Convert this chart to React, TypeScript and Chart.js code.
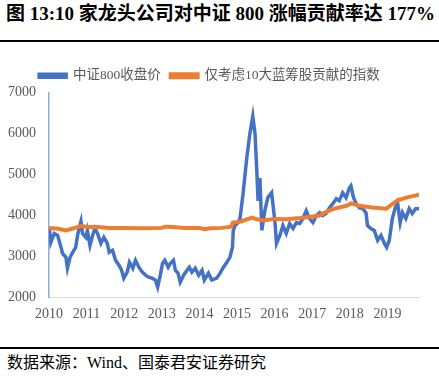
import React, { useEffect, useRef } from "react";
import { Chart, registerables } from "chart.js";

Chart.register(...registerables);

const titleText = "图 13:10 家龙头公司对中证 800 涨幅贡献率达 177%";
const sourceText = "数据来源：Wind、国泰君安证券研究";
const seriesNames = ["中证800收盘价", "仅考虑10大蓝筹股贡献的指数"];

const yearTicks = [2010, 2011, 2012, 2013, 2014, 2015, 2016, 2017, 2018, 2019];

const csiDates = [
  2010.01, 2010.05, 2010.14, 2010.23, 2010.32, 2010.36, 2010.45, 2010.49, 2010.56, 2010.63,
  2010.71, 2010.76, 2010.8, 2010.85, 2010.89, 2010.98, 2011.02, 2011.09, 2011.16, 2011.22,
  2011.29, 2011.38, 2011.46, 2011.55, 2011.6, 2011.69, 2011.77, 2011.86, 2011.93, 2011.99,
  2012.08, 2012.14, 2012.23, 2012.3, 2012.39, 2012.48, 2012.57, 2012.65, 2012.74, 2012.83,
  2012.89, 2012.96, 2013.02, 2013.08, 2013.17, 2013.23, 2013.31, 2013.36, 2013.43, 2013.49,
  2013.58, 2013.67, 2013.73, 2013.8, 2013.89, 2013.98, 2014.07, 2014.13, 2014.24, 2014.33,
  2014.46, 2014.55, 2014.64, 2014.73, 2014.81, 2014.88, 2014.9, 2014.95, 2015.03, 2015.08,
  2015.16, 2015.26, 2015.34, 2015.42, 2015.48, 2015.53, 2015.56, 2015.61, 2015.66, 2015.74,
  2015.82, 2015.92, 2015.96, 2016.01, 2016.05, 2016.14, 2016.22, 2016.31, 2016.4, 2016.49,
  2016.58, 2016.67, 2016.75, 2016.84, 2016.93, 2017.02, 2017.11, 2017.2, 2017.28, 2017.37,
  2017.46, 2017.55, 2017.64, 2017.72, 2017.81, 2017.9, 2017.99, 2018.03, 2018.1, 2018.17,
  2018.25, 2018.34, 2018.43, 2018.47, 2018.56, 2018.65, 2018.74, 2018.83, 2018.92, 2018.98,
  2019.05, 2019.13, 2019.21, 2019.27, 2019.34, 2019.4, 2019.49, 2019.58, 2019.66, 2019.75,
  2019.84,
];
const csiValues = [
  3675, 3335, 3553, 3505, 3214, 3068, 2971, 2704, 2971, 3092,
  3214, 3505, 3675, 3850, 3553, 3456, 3626, 3262, 3505, 3675,
  3553, 3311, 3456, 3311, 3092, 3141, 2898, 2777, 2655, 2461,
  2607, 2849, 2704, 2898, 2728, 2607, 2534, 2485, 2461, 2413,
  2243, 2534, 2825, 2898, 2728, 2825, 2898, 2655, 2583, 2364,
  2534, 2655, 2728, 2607, 2704, 2534, 2655, 2413, 2583, 2413,
  2461, 2583, 2728, 2849, 2971, 3214, 3626, 3747, 3820, 3920,
  4520, 5400, 5980, 6420, 5980, 5010, 4350, 4910, 3630, 4110,
  4430, 4550, 4233, 3820, 3311, 3505, 3747, 3553, 3796, 3675,
  3820, 3796, 3917, 4111, 3917, 3820, 3990, 4063, 3990, 4039,
  4184, 4281, 4403, 4354, 4548, 4427, 4670, 4718, 4427, 4281,
  4184, 4160, 4063, 3747, 3675, 3626, 3383, 3505, 3311, 3214,
  3383, 3917, 4184, 4306, 3820, 4063, 3917, 4160, 4039, 4160,
  4160,
];

const blueChipDates = [
  2010.0, 2010.25, 2010.45, 2010.65, 2010.85, 2011.0, 2011.3, 2011.6, 2012.0, 2012.5,
  2013.0, 2013.1, 2013.3, 2013.6, 2014.0, 2014.13, 2014.3, 2014.6, 2014.85, 2014.89,
  2015.08, 2015.4, 2015.53, 2015.69, 2016.0, 2016.32, 2016.67, 2016.85, 2017.2, 2017.28,
  2017.45, 2017.59, 2017.91, 2018.04, 2018.25, 2018.6, 2018.97, 2019.26, 2019.5, 2019.84,
];
const blueChipValues = [
  3690, 3670, 3630, 3680, 3740, 3710, 3710, 3690, 3690, 3680,
  3690, 3720, 3710, 3690, 3690, 3660, 3680, 3690, 3720, 3820,
  3840, 3940, 3900, 3870, 3910, 3900, 3930, 3950, 3990, 4040,
  4110, 4160, 4230, 4290, 4230, 4190, 4160, 4360, 4430, 4500,
];

const FONT = '"Liberation Serif", "Noto Sans CJK SC", serif';

function ChartView() {
  const ref = useRef<HTMLCanvasElement | null>(null);
  useEffect(() => {
    if (!ref.current) return;
    const chart = new Chart(ref.current, {
      type: "line",
      data: {
        datasets: [
          {
            label: seriesNames[0],
            data: csiDates.map((d, i) => ({ x: d, y: csiValues[i] })),
            borderColor: "#4472C4",
            backgroundColor: "#4472C4",
            borderWidth: 3.5,
            pointRadius: 0,
            tension: 0,
            order: 2,
          },
          {
            label: seriesNames[1],
            data: blueChipDates.map((d, i) => ({ x: d, y: blueChipValues[i] })),
            borderColor: "#ED7D31",
            backgroundColor: "#ED7D31",
            borderWidth: 4,
            pointRadius: 0,
            tension: 0,
            order: 1,
          },
        ],
      },
      options: {
        responsive: false,
        animation: false,
        layout: { padding: { top: 9, right: 20, left: 0, bottom: 0 } },
        plugins: {
          tooltip: { enabled: false },
          legend: {
            display: true,
            position: "top",
            labels: {
              boxWidth: 27,
              boxHeight: 3,
              padding: 10,
              color: "#595959",
              font: { family: FONT, size: 13.5 },
              sort: (a: any, b: any) => a.datasetIndex - b.datasetIndex,
            },
          },
        },
        scales: {
          x: {
            type: "linear",
            min: 2010,
            max: 2019.84,
            afterFit: (s: any) => {
              s.height = 38;
            },
            afterBuildTicks: (s: any) => {
              s.ticks = yearTicks.map((v) => ({ value: v }));
            },
            ticks: {
              color: "#595959",
              font: { family: FONT, size: 14 },
              padding: 9,
              maxRotation: 0,
              autoSkip: false,
              callback: (v: any) => String(v),
            },
            grid: { display: false, drawTicks: false },
            border: { display: true, color: "#D9D9D9", width: 1 },
          },
          y: {
            min: 2000,
            max: 7000,
            afterFit: (s: any) => {
              s.width = 49;
            },
            ticks: {
              stepSize: 1000,
              color: "#595959",
              font: { family: FONT, size: 14 },
              padding: 13,
              callback: (v: any) => String(v),
            },
            grid: { display: false, drawTicks: false },
            border: { display: true, color: "#8FAADC", width: 1.5 },
          },
        },
      },
    });
    return () => chart.destroy();
  }, []);
  return <canvas ref={ref} width={439} height={285} style={{ display: "block" }} />;
}

export default function App() {
  return (
    <div
      style={{
        position: "fixed",
        left: 0,
        top: 0,
        width: 439,
        height: 378,
        background: "#fff",
        overflow: "hidden",
      }}
    >
      <div
        style={{
          position: "absolute",
          left: 6,
          top: 4,
          font: `bold 19px ${FONT}`,
          lineHeight: "19px",
          whiteSpace: "nowrap",
          color: "#000",
        }}
      >
        {titleText}
      </div>
      <div style={{ position: "absolute", left: 0, top: 40, width: 439, height: 2, background: "#000" }} />
      <div style={{ position: "absolute", left: 0, top: 50, width: 439, height: 285 }}>
        <ChartView />
      </div>
      <div style={{ position: "absolute", left: 0, top: 347, width: 439, height: 1.5, background: "#000" }} />
      <div
        style={{
          position: "absolute",
          left: 7,
          top: 355,
          font: `16px ${FONT}`,
          lineHeight: "16px",
          whiteSpace: "nowrap",
          color: "#000",
        }}
      >
        {sourceText}
      </div>
    </div>
  );
}
